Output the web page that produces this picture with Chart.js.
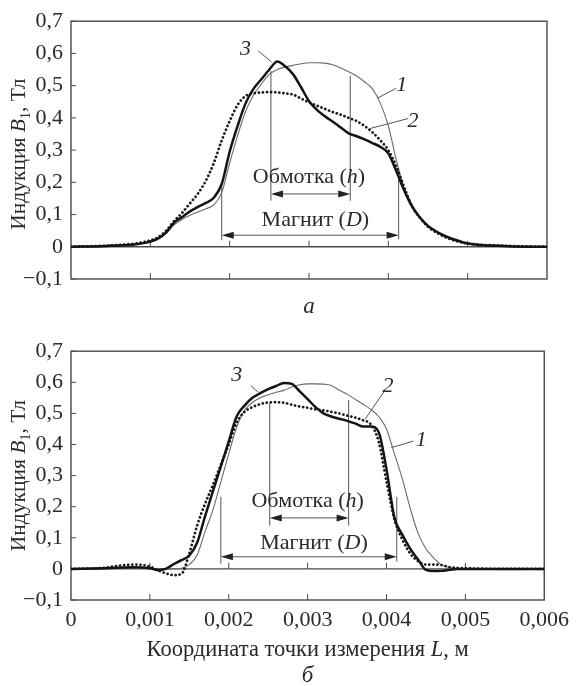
<!DOCTYPE html>
<html>
<head>
<meta charset="utf-8">
<script src="https://cdn.jsdelivr.net/npm/chart.js@4.4.1/dist/chart.umd.min.js"></script>
<style>
  body { margin: 0; background: #fff; }
  #wrap { position: relative; width: 576px; height: 686px; background: #fff; }
  canvas { position: absolute; left: 0; }
  #panelA { top: 0; }
  #panelB { top: 330px; }
</style>
</head>
<body>
<div id="wrap">
  <canvas id="panelA" width="576" height="330"></canvas>
  <canvas id="panelB" width="576" height="356"></canvas>
</div>
<script>
// measurement coordinate L, m (shared by all curves)
const xCoords = [0, 0.0004, 0.0006, 0.0008, 0.001, 0.0011, 0.0012, 0.0013, 0.0014, 0.0015,
  0.0016, 0.0017, 0.0018, 0.0019, 0.002, 0.0021, 0.0022, 0.0023, 0.0024, 0.0025,
  0.0026, 0.0027, 0.0028, 0.0029, 0.003, 0.0031, 0.0032, 0.0033, 0.0034, 0.0035,
  0.0036, 0.0037, 0.0038, 0.0039, 0.004, 0.0041, 0.0042, 0.0043, 0.0044, 0.0045,
  0.0046, 0.0047, 0.0048, 0.0049, 0.005, 0.0055, 0.006];

// panel "а": induction B1, T
const topCurve1 = [0, 0.002, 0.004, 0.007, 0.015, 0.024, 0.042, 0.068, 0.085, 0.098,
  0.108, 0.118, 0.13, 0.168, 0.26, 0.345, 0.42, 0.47, 0.505, 0.535,
  0.55, 0.558, 0.563, 0.568, 0.571, 0.571, 0.57, 0.565, 0.555, 0.543,
  0.53, 0.512, 0.49, 0.445, 0.375, 0.27, 0.18, 0.125, 0.09, 0.065,
  0.048, 0.035, 0.025, 0.017, 0.01, 0.002, 0];
const topCurve2 = [0, 0.003, 0.006, 0.01, 0.02, 0.03, 0.05, 0.08, 0.105, 0.135,
  0.165, 0.205, 0.26, 0.33, 0.39, 0.44, 0.468, 0.476, 0.479, 0.48,
  0.479, 0.476, 0.472, 0.46, 0.448, 0.438, 0.428, 0.418, 0.41, 0.4,
  0.39, 0.375, 0.355, 0.33, 0.3, 0.25, 0.185, 0.125, 0.09, 0.062,
  0.045, 0.032, 0.022, 0.015, 0.01, 0.003, 0];
const topCurve3 = [0, 0.002, 0.004, 0.007, 0.016, 0.026, 0.045, 0.075, 0.092, 0.11,
  0.124, 0.136, 0.152, 0.195, 0.295, 0.375, 0.445, 0.49, 0.52, 0.55,
  0.575, 0.56, 0.535, 0.495, 0.452, 0.425, 0.405, 0.388, 0.37, 0.352,
  0.343, 0.333, 0.322, 0.31, 0.29, 0.235, 0.175, 0.125, 0.09, 0.065,
  0.048, 0.035, 0.025, 0.017, 0.01, 0.002, 0];

// panel "б"
const bottomCurve1 = [0, 0.001, 0.002, 0.003, 0.002, 0, 0, 0, 0.002, 0.014,
  0.045, 0.12, 0.19, 0.28, 0.37, 0.455, 0.51, 0.535, 0.55, 0.56,
  0.568, 0.574, 0.585, 0.592, 0.595, 0.595, 0.594, 0.59, 0.575, 0.562,
  0.546, 0.53, 0.513, 0.49, 0.45, 0.37, 0.29, 0.195, 0.115, 0.065,
  0.035, 0.013, 0.004, 0.002, 0, 0, 0];
const bottomCurve2 = [0, 0.003, 0.01, 0.014, 0.008, -0.004, -0.014, -0.02, -0.016, 0.05,
  0.14, 0.21, 0.27, 0.335, 0.4, 0.47, 0.505, 0.52, 0.53, 0.535,
  0.536, 0.534, 0.528, 0.522, 0.518, 0.513, 0.51, 0.505, 0.5, 0.493,
  0.487, 0.478, 0.465, 0.41, 0.28, 0.16, 0.095, 0.05, 0.025, 0.014,
  0.014, 0.012, 0.006, 0.003, 0.002, 0, 0];
const bottomCurve3 = [0, 0.002, 0.004, 0.005, 0.002, -0.004, 0, 0.015, 0.028, 0.043,
  0.085, 0.17, 0.25, 0.33, 0.41, 0.49, 0.525, 0.55, 0.565, 0.578,
  0.588, 0.598, 0.595, 0.571, 0.546, 0.52, 0.5, 0.49, 0.483, 0.476,
  0.468, 0.458, 0.458, 0.44, 0.32, 0.165, 0.11, 0.065, 0.03, -0.003,
  -0.007, -0.006, -0.003, 0, 0, 0, 0];

// winding (h) and magnet (D) boundaries, m
const windingBounds = [0.00252, 0.00352];
const magnetBounds = [0.0019, 0.00413];

const SERIF = '"Liberation Serif", "DejaVu Serif", serif';
const INK = '#2a2a2a';
const FRAME = '#4a4a4a';

// annotation layout for each panel (values in data units)
const topMarks = {
  windingTop: [0.546, 0.531], windingBottom: 0.143,
  magnetTop: [0.197, 0.244], magnetBottom: [0.02, 0.024],
  windingArrow: 0.164, magnetArrow: 0.036,
  windingText: [0.003, 0.198], magnetText: [0.00308, 0.063],
  numbers: [
    ['3', 0.0022, 0.595, [0.00236, 0.608, 0.00253, 0.573]],
    ['1', 0.00417, 0.484, [0.0041, 0.492, 0.00386, 0.461]],
    ['2', 0.00431, 0.372, [0.00425, 0.398, 0.00377, 0.367]]
  ]
};
const bottomMarks = {
  windingTop: [0.534, 0.543], windingBottom: 0.139,
  magnetTop: [0.232, 0.232], magnetBottom: [0.017, 0.024],
  windingArrow: 0.164, magnetArrow: 0.039,
  windingText: [0.003, 0.198], magnetText: [0.00308, 0.063],
  numbers: [
    ['3', 0.0021, 0.605, [0.00228, 0.589, 0.00237, 0.569]],
    ['2', 0.00402, 0.569, [0.00398, 0.574, 0.00373, 0.482]],
    ['1', 0.00444, 0.396, [0.00434, 0.411, 0.00406, 0.39]]
  ]
};

function fontFor(style, size) {
  if (style === 'i') return `italic ${size}px ${SERIF}`;
  if (style === 'sub') return `${Math.round(size * 0.65)}px ${SERIF}`;
  return `${size}px ${SERIF}`;
}

// draw text made of plain / italic / subscript parts, centred on x, y = baseline
function drawRich(ctx, parts, x, y, size) {
  ctx.textAlign = 'left';
  ctx.textBaseline = 'alphabetic';
  const widths = parts.map(([t, s]) => { ctx.font = fontFor(s, size); return ctx.measureText(t).width; });
  let cx = x - widths.reduce((a, b) => a + b, 0) / 2;
  parts.forEach(([t, s], i) => {
    ctx.font = fontFor(s, size);
    ctx.fillText(t, cx, y + (s === 'sub' ? size * 0.22 : 0));
    cx += widths[i];
  });
}

function seg(ctx, x1, y1, x2, y2) {
  ctx.beginPath(); ctx.moveTo(x1, y1); ctx.lineTo(x2, y2); ctx.stroke();
}

function arrowHead(ctx, tipX, y, dir) {
  ctx.beginPath();
  ctx.moveTo(tipX, y);
  ctx.lineTo(tipX - dir * 12, y - 3.5);
  ctx.lineTo(tipX - dir * 12, y + 3.5);
  ctx.closePath();
  ctx.fill();
}

const panelPlugin = {
  id: 'panel',
  beforeDatasetsDraw(chart, args, opts) {
    const { ctx, chartArea: a, scales: { x, y } } = chart;
    const m = opts.marks;
    ctx.save();
    ctx.strokeStyle = FRAME;
    ctx.lineWidth = 1.4;
    ctx.strokeRect(a.left, a.top, a.right - a.left, a.bottom - a.top);
    const y0 = y.getPixelForValue(0);
    seg(ctx, a.left, y0, a.right, y0);
    ctx.lineWidth = 1;
    y.ticks.forEach(t => {
      const py = y.getPixelForValue(t.value);
      seg(ctx, a.left, py, a.left + 5, py);
    });
    x.ticks.forEach(t => {
      const px = x.getPixelForValue(t.value);
      if (px < a.left + 2 || px > a.right - 2) return;
      seg(ctx, px, a.bottom, px, a.bottom - 6);
      seg(ctx, px, y0, px, y0 - 6);
    });

    // winding and magnet markers
    ctx.strokeStyle = '#555';
    ctx.fillStyle = '#222';
    ctx.lineWidth = 1;
    windingBounds.forEach((b, i) => {
      const px = x.getPixelForValue(b);
      seg(ctx, px, y.getPixelForValue(m.windingBottom), px, y.getPixelForValue(m.windingTop[i]));
    });
    magnetBounds.forEach((b, i) => {
      const px = x.getPixelForValue(b);
      seg(ctx, px, y.getPixelForValue(m.magnetBottom[i]), px, y.getPixelForValue(m.magnetTop[i]));
    });
    [[windingBounds, m.windingArrow], [magnetBounds, m.magnetArrow]].forEach(([b, v]) => {
      const x1 = x.getPixelForValue(b[0]), x2 = x.getPixelForValue(b[1]);
      const py = y.getPixelForValue(v);
      seg(ctx, x1 + 6, py, x2 - 6, py);
      arrowHead(ctx, x1, py, -1);
      arrowHead(ctx, x2, py, 1);
    });
    ctx.restore();
  },
  afterDatasetsDraw(chart, args, opts) {
    const { ctx, chartArea: a, scales: { x, y } } = chart;
    const m = opts.marks;
    ctx.save();
    ctx.fillStyle = INK;
    drawRich(ctx, [['Обмотка (', ''], ['h', 'i'], [')', '']],
      x.getPixelForValue(m.windingText[0]), y.getPixelForValue(m.windingText[1]), 22);
    drawRich(ctx, [['Магнит (', ''], ['D', 'i'], [')', '']],
      x.getPixelForValue(m.magnetText[0]), y.getPixelForValue(m.magnetText[1]), 22);

    ctx.strokeStyle = '#555';
    ctx.lineWidth = 1;
    m.numbers.forEach(([label, lx, ly, lead]) => {
      seg(ctx, x.getPixelForValue(lead[0]), y.getPixelForValue(lead[1]),
        x.getPixelForValue(lead[2]), y.getPixelForValue(lead[3]));
      drawRich(ctx, [[label, 'i']], x.getPixelForValue(lx), y.getPixelForValue(ly), 22);
    });

    // axis titles
    const cx = (a.left + a.right) / 2;
    ctx.save();
    ctx.translate(25, (a.top + a.bottom) / 2 + opts.yTitleShift);
    ctx.rotate(-Math.PI / 2);
    drawRich(ctx, [['Индукция ', ''], ['B', 'i'], ['1', 'sub'], [', Тл', '']], 0, 0, 21.5);
    ctx.restore();
    if (opts.xTitle) {
      drawRich(ctx, [['Координата точки измерения ', ''], ['L', 'i'], [', м', '']], cx, opts.xTitle, 22.5);
    }
    drawRich(ctx, [[opts.letter, 'i']], cx, opts.letterY, 23);
    ctx.restore();
  }
};

const fmtY = v => {
  const r = Math.round(v * 10) / 10;
  if (r === 0) return '0';
  const s = Math.abs(r).toFixed(1).replace('.', ',');
  return r < 0 ? '\u2212' + s : s;
};
const fmtX = v => {
  const r = Math.round(v * 10000) / 10000;
  return r === 0 ? '0' : r.toFixed(3).replace('.', ',');
};

function curve(ys, style, order) {
  return Object.assign({
    data: xCoords.map((x, i) => ({ x, y: ys[i] })),
    pointRadius: 0,
    fill: false,
    cubicInterpolationMode: 'monotone',
    order
  }, style);
}

const thinStyle = { borderColor: '#6a6a6a', borderWidth: 1.1 };
const dotStyle = { borderColor: '#1a1a1a', borderWidth: 2.7, borderDash: [0.1, 4.0], borderCapStyle: 'round' };
const thickStyle = { borderColor: '#141414', borderWidth: 2.5 };

function makePanel(id, c1, c2, c3, cfg) {
  const tickFont = { family: SERIF, size: 22 };
  return new Chart(document.getElementById(id), {
    type: 'line',
    data: {
      datasets: [curve(c1, thinStyle, 3), curve(c2, dotStyle, 2), curve(c3, thickStyle, 1)]
    },
    options: {
      responsive: false,
      animation: false,
      devicePixelRatio: 1,
      layout: { padding: { top: cfg.padTop, right: 29, left: 0, bottom: 0 } },
      plugins: {
        legend: { display: false },
        tooltip: { enabled: false },
        panel: cfg.panel
      },
      scales: {
        x: {
          type: 'linear', min: 0, max: 0.006,
          grid: { display: false, drawTicks: false },
          border: { display: false },
          ticks: { display: cfg.showX, stepSize: 0.001, padding: 7, maxRotation: 0, autoSkip: false,
            font: tickFont, color: INK, callback: fmtX },
          afterFit: s => { s.height = cfg.xHeight; }
        },
        y: {
          min: -0.1, max: 0.7,
          grid: { display: false, drawTicks: false },
          border: { display: false },
          ticks: { stepSize: 0.1, padding: 8, font: tickFont, color: INK, callback: fmtY },
          afterFit: s => { s.width = 71; }
        }
      }
    },
    plugins: [panelPlugin]
  });
}

makePanel('panelA', topCurve1, topCurve2, topCurve3, {
  padTop: 16, xHeight: 51, showX: false,
  panel: { marks: topMarks, letter: 'а', letterY: 313, xTitle: null, yTitleShift: 4 }
});
makePanel('panelB', bottomCurve1, bottomCurve2, bottomCurve3, {
  padTop: 7, xHeight: 86, showX: true,
  panel: { marks: bottomMarks, letter: 'б', letterY: 352, xTitle: 326, yTitleShift: 0 }
});
</script>
</body>
</html>
